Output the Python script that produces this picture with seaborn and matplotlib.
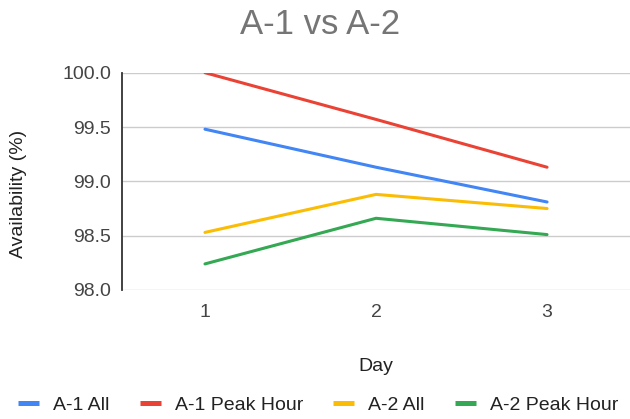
import matplotlib
matplotlib.use("Agg")
import matplotlib.pyplot as plt
import seaborn as sns
import pandas as pd

days = [1, 2, 3]
a1_all = [99.48, 99.13, 98.81]
a1_peak = [100.0, 99.57, 99.13]
a2_all = [98.53, 98.88, 98.75]
a2_peak = [98.24, 98.66, 98.51]

series_names = ["A-1 All", "A-1 Peak Hour", "A-2 All", "A-2 Peak Hour"]
series_values = [a1_all, a1_peak, a2_all, a2_peak]
palette = ["#4285F4", "#EA4335", "#FBBC04", "#34A853"]

rows = []
for name, vals in zip(series_names, series_values):
    for d, v in zip(days, vals):
        rows.append({"Day": d, "Availability (%)": v, "Series": name})
df = pd.DataFrame(rows)

sns.set_theme(style="white")
plt.rcParams["font.family"] = ["Liberation Sans", "DejaVu Sans"]

fig = plt.figure(figsize=(6.3, 4.19), dpi=100)
ax = fig.add_axes([0.1937, 0.3079, 0.8063, 0.5186])

sns.lineplot(data=df, x="Day", y="Availability (%)", hue="Series",
             hue_order=series_names, palette=palette, linewidth=2.2,
             ax=ax, legend=False)

ax.set_xlim(0.515, 3.485)
ax.set_ylim(98.0, 100.0)
ax.set_yticks([98.0, 98.5, 99.0, 99.5, 100.0])
ax.set_yticklabels(["98.0", "98.5", "99.0", "99.5", "100.0"])
ax.set_xticks(days)
ax.set_xticklabels([str(d) for d in days])
ax.grid(axis="y", color="#cccccc", linewidth=1.0)
ax.set_axisbelow(True)
for s in ["top", "right", "bottom"]:
    ax.spines[s].set_visible(False)
ax.spines["left"].set_color("#333333")
ax.spines["left"].set_linewidth(1.3)
ax.tick_params(axis="both", length=0, labelsize=14, colors="#444444")
ax.tick_params(axis="y", pad=8)
ax.tick_params(axis="x", pad=10)

ax.set_xlabel("Day", fontsize=14, color="#222222", labelpad=27)
ax.set_ylabel("Availability (%)", fontsize=14, color="#222222")
ax.yaxis.set_label_coords(-0.187, 0.44)

fig.text(0.508, 0.942, "A-1 vs A-2", ha="center", va="center",
         fontsize=25, color="#757575")

handles = [plt.Line2D([], [], color=c, linewidth=3.6, solid_capstyle="butt")
           for c in palette]
fig.legend(handles, series_names, loc="center", bbox_to_anchor=(0.505, 0.033),
           ncol=4, frameon=False, fontsize=14, handlelength=1.08,
           handletextpad=0.72, columnspacing=1.55, labelcolor="#222222")

fig.savefig("out.png", dpi=100)
